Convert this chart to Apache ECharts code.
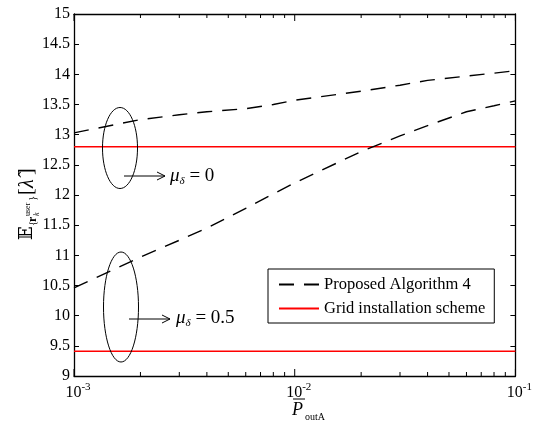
<!DOCTYPE html>
<html><head><meta charset="utf-8">
<script src="https://cdn.jsdelivr.net/npm/echarts@6/dist/echarts.min.js"></script>
<style>html,body{margin:0;padding:0;background:#fff}#c{width:535px;height:428px}</style>
</head><body><div id="c"></div>
<script>
// ---- data ----
const xValues = [0.001, 0.002, 0.003, 0.004, 0.006, 0.008, 0.01, 0.02, 0.03, 0.04, 0.06, 0.08, 0.1];
const algMu0  = [13.03, 13.25, 13.33, 13.38, 13.43, 13.50, 13.57, 13.72, 13.82, 13.90, 13.97, 14.02, 14.06];
const algMu05 = [10.46, 10.97, 11.25, 11.45, 11.78, 12.02, 12.20, 12.72, 12.98, 13.15, 13.38, 13.48, 13.56];
const gridMu0 = 12.8;
const gridMu05 = 9.41;
const xRange = [0.001, 0.1];
const yMin = 9, yMax = 15, yStep = 0.5;
const xMajorTicks = [0.001, 0.01, 0.1];
const xMinorTicks = [0.002,0.003,0.004,0.005,0.006,0.007,0.008,0.009,0.02,0.03,0.04,0.05,0.06,0.07,0.08,0.09];
const legendNames = ['Proposed Algorithm 4', 'Grid installation scheme'];
const annoLabels = ['0', '0.5'];

const SERIF = 'Liberation Serif, Times New Roman, serif';
const zip = (xs, ys) => xs.map((x, i) => [x, ys[i]]);
const flat = v => [[xRange[0], v], [xRange[1], v]];

const chart = echarts.init(document.getElementById('c'), null, {renderer: 'canvas'});

const axisLine = {show: true, lineStyle: {color: '#000', width: 1.3}};
const baseX = {
  type: 'log', logBase: 10, min: xRange[0], max: xRange[1], gridIndex: 0,
  splitLine: {show: false}, axisLine: axisLine, axisTick: {show: false}
};

function tickSeries(values, len) {
  return {
    type: 'custom', silent: true, clip: false, z: 5,
    data: values.map(v => [v, yMin]),
    encode: {x: 0, y: 1},
    renderItem: (params, api) => {
      const b = api.coord([api.value(0), yMin]);
      const t = api.coord([api.value(0), yMax]);
      const st = {stroke: '#000', lineWidth: 1};
      return {type: 'group', children: [
        {type: 'line', shape: {x1: b[0], y1: b[1], x2: b[0], y2: b[1] - len}, style: st},
        {type: 'line', shape: {x1: t[0], y1: t[1], x2: t[0], y2: t[1] + len}, style: st}
      ]};
    }
  };
}

const dashed = {color: '#000', width: 1.4, type: [15, 10]};

chart.setOption({
  animation: false,
  backgroundColor: '#fff',
  grid: {left: 74, right: 12, top: 14, bottom: 52, containLabel: false},
  xAxis: [
    Object.assign({}, baseX, {
      position: 'bottom',
      axisLabel: {
        show: true, margin: 6, color: '#000', fontFamily: SERIF, fontSize: 16,
        hideOverlap: false,
        formatter: v => '{g|\u2002}10{s|' + Math.round(Math.log10(v)) + '}',
        rich: {
          g: {fontSize: 16, fontFamily: SERIF},
          s: {fontSize: 11, fontFamily: SERIF, color: '#000', padding: [0, 0, 10, 0]}
        }
      }
    }),
    Object.assign({}, baseX, {position: 'top', axisLabel: {show: false}})
  ],
  yAxis: [
    {
      type: 'value', min: yMin, max: yMax, interval: yStep, position: 'left',
      splitLine: {show: false}, axisLine: axisLine,
      axisTick: {show: true, inside: true, length: 5, lineStyle: {color: '#000'}},
      axisLabel: {show: true, margin: 4, color: '#000', fontFamily: SERIF, fontSize: 16}
    },
    {
      type: 'value', min: yMin, max: yMax, interval: yStep, position: 'right',
      splitLine: {show: false}, axisLine: axisLine,
      axisTick: {show: true, inside: true, length: 5, lineStyle: {color: '#000'}},
      axisLabel: {show: false}
    }
  ],
  legend: {
    data: legendNames.map(n => ({name: n, itemStyle: {opacity: 0}})),
    orient: 'vertical', left: 268, top: 269,
    backgroundColor: '#fff', borderColor: '#000', borderWidth: 1,
    padding: [7, 9, 6, 10], itemGap: 7, itemWidth: 40, itemHeight: 16,
    textStyle: {color: '#000', fontFamily: SERIF, fontSize: 16.5}
  },
  series: [
    {name: legendNames[0], type: 'line', data: zip(xValues, algMu0), symbol: 'none', showSymbol: false,
     lineStyle: dashed, itemStyle: {color: '#000'}, z: 3},
    {name: legendNames[0], type: 'line', data: zip(xValues, algMu05), symbol: 'none', showSymbol: false,
     lineStyle: dashed, itemStyle: {color: '#000'}, z: 3},
    {name: legendNames[1], type: 'line', data: flat(gridMu0), symbol: 'none', showSymbol: false,
     lineStyle: {color: '#ff0000', width: 1.5}, itemStyle: {color: '#ff0000'}, z: 2},
    {name: legendNames[1], type: 'line', data: flat(gridMu05), symbol: 'none', showSymbol: false,
     lineStyle: {color: '#ff0000', width: 1.5}, itemStyle: {color: '#ff0000'}, z: 2},
    tickSeries(xMajorTicks, 7),
    tickSeries(xMinorTicks, 4)
  ],
  graphic: [
    // y-axis title
    {
      type: 'group', x: 27, y: 197, rotation: Math.PI / 2,
      children: [
        {type: 'text', x: -43, y: 0, style: {text: '\u{1D53C}', font: '18px DejaVu Serif, DejaVu Sans', fill: '#000', textVerticalAlign: 'middle'}},
        {type: 'text', x: -29, y: 6, style: {text: '{', font: '11px ' + SERIF, fill: '#000', textVerticalAlign: 'middle'}},
        {type: 'text', x: -25, y: 6, style: {text: 'r', font: 'bold 12px ' + SERIF, fill: '#000', textVerticalAlign: 'middle'}},
        {type: 'text', x: -19, y: 10, style: {text: 'k', font: 'italic 8px ' + SERIF, fill: '#000', textVerticalAlign: 'middle'}},
        {type: 'text', x: -19, y: 1, style: {text: 'user', font: '8px ' + SERIF, fill: '#000', textVerticalAlign: 'middle'}},
        {type: 'text', x: -4, y: 6, style: {text: '}', font: '11px ' + SERIF, fill: '#000', textVerticalAlign: 'middle'}},
        {type: 'text', x: 2, y: 0, style: {text: '[', font: '20px ' + SERIF, fill: '#000', textVerticalAlign: 'middle'}},
        {type: 'text', x: 9, y: 1, style: {text: '\u03BB\u0302', font: 'italic 20px ' + SERIF, fill: '#000', textVerticalAlign: 'middle'}},
        {type: 'text', x: 22, y: 0, style: {text: ']', font: '20px ' + SERIF, fill: '#000', textVerticalAlign: 'middle'}}
      ]
    },
    // x-axis title
    {type: 'text', x: 292, y: 410, style: {text: 'P', font: 'italic 18px ' + SERIF, fill: '#000', textVerticalAlign: 'middle'}},
    {type: 'line', shape: {x1: 293, y1: 399, x2: 305, y2: 399}, style: {stroke: '#000', lineWidth: 1}},
    {type: 'text', x: 305, y: 417, style: {text: 'outA', font: '10px ' + SERIF, fill: '#000', textVerticalAlign: 'middle'}},
    // annotations
    {type: 'ellipse', shape: {cx: 120, cy: 148, rx: 17.5, ry: 40.5}, style: {stroke: '#000', fill: null, lineWidth: 1}, z: 10},
    {type: 'ellipse', shape: {cx: 121, cy: 307, rx: 17.5, ry: 55}, style: {stroke: '#000', fill: null, lineWidth: 1}, z: 10},
    {type: 'line', shape: {x1: 124, y1: 176, x2: 165, y2: 176}, style: {stroke: '#000', lineWidth: 1}, z: 10},
    {type: 'polyline', shape: {points: [[157, 172], [165, 176], [157, 180]]}, style: {stroke: '#000', fill: null, lineWidth: 1}, z: 10},
    {type: 'line', shape: {x1: 129, y1: 319, x2: 170, y2: 319}, style: {stroke: '#000', lineWidth: 1}, z: 10},
    {type: 'polyline', shape: {points: [[162, 315], [170, 319], [162, 323]]}, style: {stroke: '#000', fill: null, lineWidth: 1}, z: 10},
    {type: 'text', x: 170, y: 176, z: 10, style: {
      text: '{m|\u03BC}{d|\u03B4}{e| = ' + annoLabels[0] + '}', textVerticalAlign: 'middle',
      rich: {m: {font: 'italic 19px ' + SERIF, fill: '#000'}, d: {font: 'italic 11px ' + SERIF, fill: '#000', padding: [10, 0, 0, 0]}, e: {font: '19px ' + SERIF, fill: '#000'}}
    }},
    {type: 'text', x: 176, y: 318, z: 10, style: {
      text: '{m|\u03BC}{d|\u03B4}{e| = ' + annoLabels[1] + '}', textVerticalAlign: 'middle',
      rich: {m: {font: 'italic 19px ' + SERIF, fill: '#000'}, d: {font: 'italic 11px ' + SERIF, fill: '#000', padding: [10, 0, 0, 0]}, e: {font: '19px ' + SERIF, fill: '#000'}}
    }}
  ]
});
</script>
</body></html>
